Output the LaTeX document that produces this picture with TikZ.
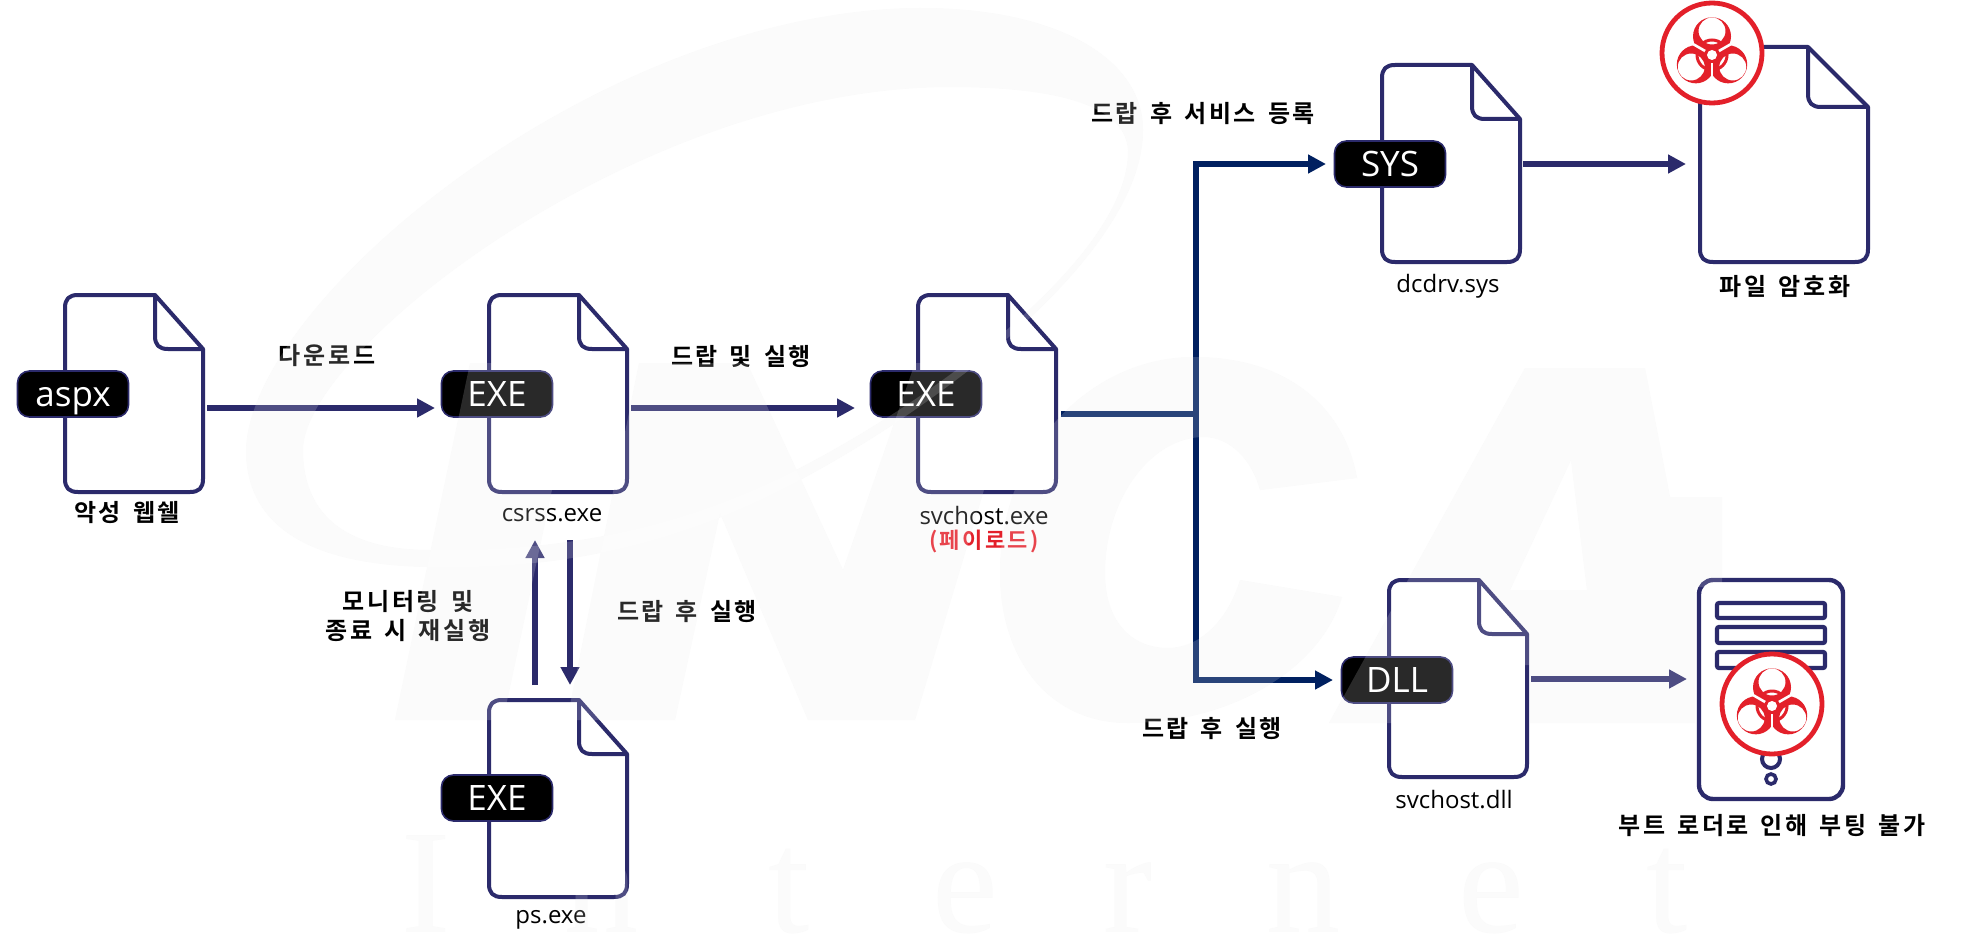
\documentclass[tikz,border=0pt]{standalone}
\usepackage{fontspec}
\usetikzlibrary{arrows.meta}
\setmainfont{Open Sans}
\newfontfamily\krb[LetterSpace=11,WordSpace=1.5]{Noto Sans CJK KR Bold}
\newfontfamily\lat{Open Sans}
\newfontfamily\wmf{Liberation Serif}
\definecolor{navy}{HTML}{2B2A6B}
\definecolor{deep}{HTML}{002060}
\definecolor{bio}{HTML}{E3202A}
\definecolor{pale}{HTML}{FAFAFA}
\definecolor{scr}{HTML}{292929}
\tikzset{
  x=1pt,y=-1pt,
  filebox/.style={inner sep=0,outer sep=0},
  docline/.style={draw=navy,line width=4pt,fill=white,line join=round},
  badge/.style={fill=black,draw=navy,line width=1.6pt,rounded corners=12pt,minimum width=111pt,minimum height=46pt,inner sep=0,text=white,font=\lat\fontsize{35}{40}\selectfont},
  arr/.style={draw=navy,line width=5.5pt,-{Triangle[length=18pt,width=18pt]}},
  arrd/.style={draw=deep,line width=6pt,-{Triangle[length=18pt,width=18pt]},line join=miter},
  lab/.style={font=\krb\fontsize{24}{28}\selectfont,text=black,inner sep=0,align=center},
  fname/.style={font=\lat\fontsize{24}{28}\selectfont,text=black,inner sep=0},
  wml/.style={font=\wmf\fontsize{148}{150}\selectfont,inner sep=0,anchor=base},
  biopic/.pic={
    \fill[white,draw=bio,line width=4.8pt] (0,0) circle[radius=50pt];
    \begin{scope}[yshift=-2pt]
    \foreach \a in {90,210,330}{
      \fill[bio,even odd rule] (\a:18.7pt) circle[radius=19pt] (\a:24pt) circle[radius=13.5pt];
    }
    \draw[bio,line width=3pt] (0,0) circle[radius=15pt];
    \foreach \a in {30,150,270}{
      \draw[white,line width=2.6pt] (\a:4pt) -- (\a:21pt);
    }
    \fill[bio] (0,0) circle[radius=8pt];
    \fill[white] (0,0) circle[radius=5pt];
    \end{scope}
  }
}
% watermark outline
\newcommand{\wmswoosh}{
  (246,450) .. controls (250,300) and (600,10) .. (920,8)
  .. controls (1060,8) and (1143,60) .. (1143,130)
  .. controls (1143,250) and (950,400) .. (800,480)
  .. controls (680,545) and (560,570) .. (430,567)
  .. controls (300,565) and (246,520) .. (246,450) -- cycle
  (303,450) .. controls (303,350) and (640,87) .. (950,87)
  .. controls (1040,87) and (1125,100) .. (1128,150)
  .. controls (1130,250) and (950,390) .. (800,468)
  .. controls (680,530) and (560,552) .. (430,550)
  .. controls (340,550) and (303,510) .. (303,450) -- cycle
}
\newcommand{\wmwa}{
  (470,363) -- (579,363) -- (503,720) -- (395,720) -- cycle
}
\newcommand{\wmwb}{
  (639,363) -- (747,363) -- (843,570) -- (915,363)
  -- (1022,363) -- (915,720) -- (808,720) -- (720,513) -- (675,720) -- (567,720) -- cycle
}
\newcommand{\wmc}{
  (1194,357) .. controls (1290,357) and (1345,410) .. (1357,478)
  -- (1260,490) .. controls (1252,460) and (1230,437) .. (1204,437)
  .. controls (1150,437) and (1105,500) .. (1105,573)
  .. controls (1105,620) and (1130,648) .. (1168,648)
  .. controls (1200,648) and (1228,620) .. (1240,580)
  -- (1342,597) .. controls (1320,670) and (1230,723) .. (1128,723)
  .. controls (1050,723) and (1000,660) .. (1000,573)
  .. controls (1000,450) and (1090,357) .. (1194,357) -- cycle
}
\newcommand{\wma}{
  (1525,368) -- (1645,368) -- (1670,497) -- (1722,497) -- (1722,587) -- (1695,587) -- (1695,723)
  -- (1530,723) -- (1530,665) -- (1474,665) -- (1449,723) -- (1329,723) -- cycle
  (1571,460) -- (1510,590) -- (1587,590) -- cycle
}
\newcommand{\wminternet}[2]{
  \node[wml,text=#1] (#2i1) at (426,932) {I};
  \node[wml,text=#1] (#2n1) at (601,932) {n};
  \node[wml,text=#1] (#2t1) at (789,932) {t};
  \node[wml,text=#1] (#2e1) at (965,932) {e};
  \node[wml,text=#1] (#2r1) at (1128,932) {r};
  \node[wml,text=#1] (#2n2) at (1303,932) {n};
  \node[wml,text=#1] (#2e2) at (1491,932) {e};
  \node[wml,text=#1] (#2t2) at (1667,932) {t};
}
% name, left, top, right, bottom, fold x inset, fold y inset
\newcommand{\docfile}[7]{
  \node[filebox,minimum width=#4pt-#2pt,minimum height=#5pt-#3pt] (#1) at ({(#2+#4)/2},{(#3+#5)/2}) {};
  \path[docline] (#4-#6,#3) -- (#4,#3+#7) -- (#4,#5-13)
    .. controls (#4,#5-4) and (#4-4,#5) .. (#4-13,#5) -- (#2+13,#5)
    .. controls (#2+4,#5) and (#2,#5-4) .. (#2,#5-13) -- (#2,#3+13)
    .. controls (#2,#3+4) and (#2+4,#3) .. (#2+13,#3) -- cycle;
  \draw[navy,line width=4pt,line join=round] (#4-#6,#3) -- (#4-#6,#3+#7-13)
    .. controls (#4-#6,#3+#7-4) and (#4-#6+4,#3+#7) .. (#4-#6+13,#3+#7) -- (#4,#3+#7);
}
\begin{document}
\begin{tikzpicture}
\useasboundingbox (0,0) rectangle (1964,947);
\fill[white] (0,0) rectangle (1964,947);
% faint watermark under the white fills
\fill[pale,even odd rule] \wmswoosh;
\fill[pale] \wmwa;
\fill[pale] \wmwb;
\fill[pale] \wmc;
\fill[pale,even odd rule] \wma;
\wminternet{pale}{w}

% connector ends
\coordinate (a1s) at (207,408); \coordinate (a1e) at (435,408);
\coordinate (a2s) at (631,408); \coordinate (a2e) at (855,408);
\coordinate (upS) at (535,685); \coordinate (upE) at (535,540);
\coordinate (dnS) at (570,540); \coordinate (dnE) at (570,685);
\coordinate (jS) at (1061,414); \coordinate (jM) at (1196,414);
\coordinate (jT) at (1196,164); \coordinate (jTe) at (1326,164);
\coordinate (jB) at (1196,680); \coordinate (jBe) at (1333,680);
\coordinate (a3s) at (1523,164); \coordinate (a3e) at (1686,164);
\coordinate (a4s) at (1531,679); \coordinate (a4e) at (1687,679);

% files
\docfile{faspx}{65}{295}{203}{492}{48}{54}
\docfile{fcsrss}{489}{295}{627}{492}{48}{54}
\docfile{fsvc}{918}{295}{1056}{492}{48}{54}
\docfile{fps}{489}{700}{627}{897}{48}{54}
\docfile{fsys}{1382}{65}{1520}{262}{48}{54}
\docfile{fdll}{1389}{580}{1527}{777}{48}{54}
\docfile{fenc}{1700}{47}{1868}{262}{60}{60}

% server
\node[filebox,minimum width=144pt,minimum height=219pt] (srv) at (1771,689.5) {};
\draw[navy,line width=4.4pt,fill=white,rounded corners=14pt] (1699,580) rectangle (1843,799);
\foreach \ya/\yb in {603/618,627/643,652/668}{
  \draw[navy,line width=4.2pt,rounded corners=2pt] (1717,\ya) rectangle (1825,\yb);
}
\draw[navy,line width=4pt] (1771,759) circle[radius=9pt];
\draw[navy,line width=3.6pt] (1771,779) circle[radius=5pt];

% badges
\node[badge] (baspx) at (73,394) {\smash{aspx}\vphantom{X}};
\node[badge] (bcsrss) at (497,394) {EXE};
\node[badge] (bsvc) at (926,394) {EXE};
\node[badge] (bps) at (497,798) {EXE};
\node[badge] (bsys) at (1390,164) {SYS};
\node[badge] (bdll) at (1397,680) {DLL};

% biohazards
\pic at (1712,53) {biopic};
\pic at (1772,704) {biopic};

% connectors
\draw[arr] (a1s) -- (a1e);
\draw[arr] (a2s) -- (a2e);
\draw[arr] (upS) -- (upE);
\draw[arr] (dnS) -- (dnE);
\draw[arr] (a3s) -- (a3e);
\draw[arr] (a4s) -- (a4e);
\draw[deep,line width=6pt] (jS) -- (jM);
\draw[arrd] (jM) -- (jT) -- (jTe);
\draw[arrd] (jM) -- (jB) -- (jBe);

% labels
\node[lab] (t1) at (327,356) {다운로드};
\node[lab] (t2) at (741,357) {드랍 및 실행};
\node[lab] (t3) at (1203,114) {드랍 후 서비스 등록};
\node[lab] (t4) at (1212,729) {드랍 후 실행};
\node[lab] (t5) at (408,602) {모니터링 및};
\node[lab] (t6) at (408,631) {종료 시 재실행};
\node[lab] (t7) at (687,612) {드랍 후 실행};
\node[lab] (t8) at (127,513) {악성 웹쉘};
\node[lab] (t9) at (1785,287) {파일 암호화};
\node[lab] (t10) at (1772,826) {부트 로더로 인해 부팅 불가};
\node[lab,text=bio,font=\krb\fontsize{22}{26}\selectfont] (t11) at (984,541) {(페이로드)};
\node[fname] (n1) at (552,515) {csrss.exe};
\node[fname] (n2) at (984,516) {svchost.exe};
\node[fname] (n3) at (1448,286) {dcdrv.sys};
\node[fname] (n4) at (1454,800) {svchost.dll};
\node[fname] (n5) at (551,920) {ps.exe};

% translucent watermark layer: lifts dark ink, leaves white alone
\begin{scope}[blend mode=screen]
\fill[scr,even odd rule] \wmswoosh;
\fill[scr] \wmwa;
\fill[scr] \wmwb;
\fill[scr] \wmc;
\fill[scr,even odd rule] \wma;
\wminternet{scr}{s}
\end{scope}
\end{tikzpicture}
\end{document}
